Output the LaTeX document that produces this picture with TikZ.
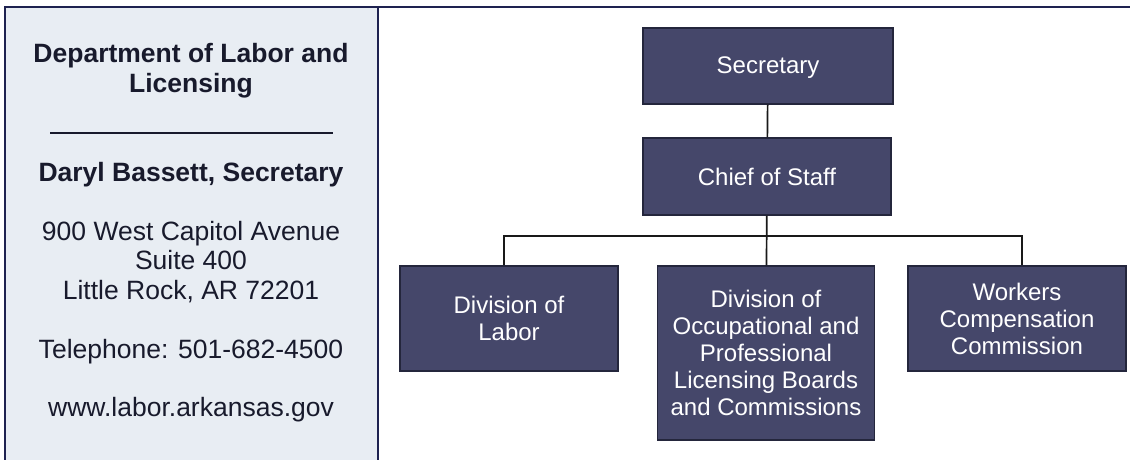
\documentclass[tikz,border=0pt]{standalone}
\usepackage{fontspec}
\setmainfont{Liberation Sans}
\definecolor{navy}{HTML}{1E2250}
\definecolor{panel}{HTML}{E8EDF3}
\definecolor{boxfill}{HTML}{45476A}
\definecolor{boxedge}{HTML}{24263C}
\definecolor{ink}{HTML}{181A2C}
\begin{document}
\begin{tikzpicture}[x=1pt,y=-1pt,
  orgbox/.style={draw=boxedge, line width=1.4pt, fill=boxfill, text=white,
    font=\fontsize{24}{27}\selectfont, align=center, inner sep=0pt},
  info/.style={text=ink, font=\fontsize{26.5}{29.5}\selectfont, align=center, inner sep=0pt},
  infob/.style={text=ink, font=\fontsize{26.5}{29.5}\selectfont\bfseries, align=center, inner sep=0pt},
  conn/.style={draw=black!90, line width=1.7pt},
  frameline/.style={draw=navy, line width=2pt}]
\useasboundingbox (0,0) rectangle (1130,460);
\fill[panel] (5,7.5) rectangle (378,460);
\draw[frameline] (5,460) -- (5,7.5) -- (1130,7.5);
\draw[frameline] (378,7.5) -- (378,460);

% left panel
\node[infob] (dept) at (191,70.5) {Department of Labor and\\Licensing};
\draw[ink, line width=1.8pt] (50,133) -- (333,133);
\node[infob] (name) at (191,175) {Daryl Bassett, Secretary};
\node[info] (addr) at (191,262) {900 West Capitol Avenue\\Suite 400\\Little Rock, AR 72201};
\node[info] (tel) at (191,352) {Telephone: 501-682-4500};
\node[info] (web) at (191,410) {www.labor.arkansas.gov};

% org chart
\node[orgbox, minimum width=250pt, minimum height=76pt, text depth=1pt] (sec) at (768,66) {Secretary};
\node[orgbox, minimum width=248pt, minimum height=77pt] (cos) at (767,176.5) {Chief of Staff};
\node[orgbox, minimum width=218pt, minimum height=105pt] (labor) at (509,318.5) {Division of\\Labor};
\node[orgbox, minimum width=217pt, minimum height=174pt] (dolb) at (766,353) {Division of\\Occupational and\\Professional\\Licensing Boards\\and Commissions};
\node[orgbox, minimum width=218pt, minimum height=105pt] (wcc) at (1017,318.5) {Workers\\Compensation\\Commission};

\coordinate (bus) at (766,236);
\draw[conn] (sec) -- (cos);
\draw[conn] (cos) -- (dolb);
\draw[conn] ([xshift=-5pt]labor.north) |- (bus) -| ([xshift=5pt]wcc.north);
\end{tikzpicture}
\end{document}
